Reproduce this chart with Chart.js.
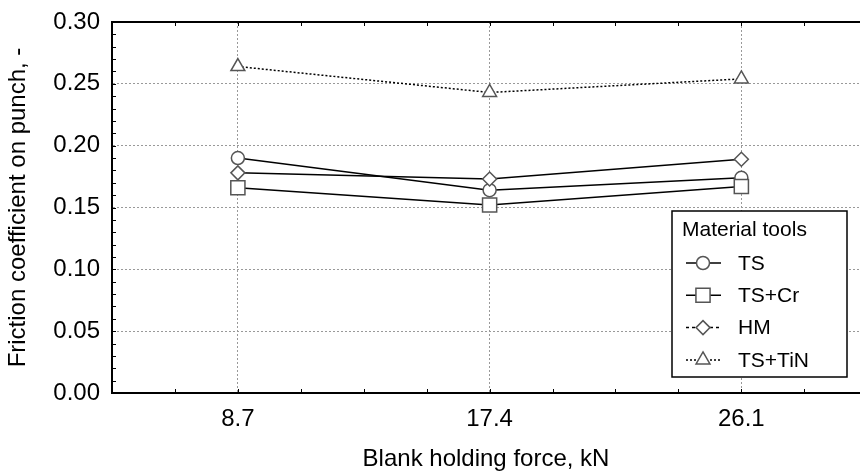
<!DOCTYPE html>
<html>
<head>
<meta charset="utf-8">
<script src="https://cdn.jsdelivr.net/npm/chart.js@4.4.8/dist/chart.umd.min.js"></script>
<style>
  html, body { margin: 0; padding: 0; background: #fff; }
  #wrap { position: relative; width: 860px; height: 474px; }
</style>
</head>
<body>
<div id="wrap"><canvas id="myChart"></canvas></div>
<script>
  // values
  const forces = [8.7, 17.4, 26.1];
  const seriesNames = ['TS', 'TS+Cr', 'HM', 'TS+TiN'];
  const valTS = [0.190, 0.164, 0.174];
  const valTSCr = [0.166, 0.152, 0.167];
  const valHM = [0.178, 0.173, 0.189];
  const valTSTiN = [0.264, 0.243, 0.254];
  const yTicks = [0, 0.05, 0.10, 0.15, 0.20, 0.25, 0.30];
  const legendTitle = 'Material tools';
  const xTitle = 'Blank holding force, kN';
  const yTitle = 'Friction coefficient on punch, -';

  Chart.defaults.font.family = "'Liberation Sans', Arial, sans-serif";
  Chart.defaults.color = '#000';

  const xMin = 4.35, xMax = 30.2;
  const minorX = 2.175, minorY = 0.01;

  function ds(i, values, style, dash, legendDash, radius, order) {
    return {
      label: seriesNames[i],
      data: values.map((v, k) => ({ x: forces[k], y: v })),
      borderColor: '#000',
      borderWidth: 1.5,
      borderDash: dash,
      legendDash: legendDash,
      pointStyle: style,
      pointRadius: radius,
      pointHoverRadius: radius,
      pointBorderColor: '#555',
      pointBackgroundColor: '#fff',
      pointBorderWidth: 1.5,
      order: order,
      tension: 0
    };
  }

  const datasets = [
    ds(0, valTS, 'circle', [], [], 6.5, 2),
    ds(1, valTSCr, 'rect', [], [], 10, 0),
    ds(2, valHM, 'rectRot', [], [3, 3], 7, 1),
    ds(3, valTSTiN, 'triangle', [2, 2], [2, 2], 8, 3)
  ];

  // top frame line + inner minor ticks
  const frame = {
    id: 'frame',
    beforeDatasetsDraw(chart) {
      const c = chart.ctx, a = chart.chartArea;
      const xs = chart.scales.x, ys = chart.scales.y;
      c.save();
      c.strokeStyle = '#000';
      c.lineWidth = 1;
      for (let v = 0; v <= 0.3 + 1e-9; v += minorY) {
        const py = Math.round(ys.getPixelForValue(v)) + 0.5;
        c.beginPath(); c.moveTo(a.left, py); c.lineTo(a.left + 4, py); c.stroke();
      }
      for (let v = forces[0] - minorX; v < xMax; v += minorX) {
        const px = Math.round(xs.getPixelForValue(v)) + 0.5;
        c.beginPath(); c.moveTo(px, a.bottom); c.lineTo(px, a.bottom - 4); c.stroke();
        c.beginPath(); c.moveTo(px, a.top); c.lineTo(px, a.top + 4); c.stroke();
      }
      c.lineWidth = 2;
      c.beginPath(); c.moveTo(a.left - 1, a.top); c.lineTo(a.right, a.top); c.stroke();
      c.restore();
    }
  };

  // boxed legend with sample line + marker
  const legendBox = {
    id: 'legendBox',
    afterDraw(chart) {
      const c = chart.ctx, a = chart.chartArea;
      const w = 175, h = 166;
      const x0 = a.right - 13 - w, y0 = a.bottom - 16 - h;
      c.save();
      c.fillStyle = '#fff';
      c.fillRect(x0, y0, w, h);
      c.strokeStyle = '#000';
      c.lineWidth = 1.5;
      c.strokeRect(x0, y0, w, h);
      c.fillStyle = '#000';
      c.font = "21px 'Liberation Sans', Arial, sans-serif";
      c.textBaseline = 'middle';
      c.fillText(legendTitle, x0 + 10, y0 + 19);
      datasets.forEach((d, i) => {
        const cy = y0 + 52 + i * 32.3;
        c.strokeStyle = '#000';
        c.lineWidth = 1.5;
        c.setLineDash(d.legendDash);
        c.beginPath(); c.moveTo(x0 + 14, cy); c.lineTo(x0 + 49, cy); c.stroke();
        c.setLineDash([]);
        c.fillStyle = '#fff';
        c.strokeStyle = '#555';
        c.lineWidth = 1.5;
        Chart.helpers.drawPoint(c, { pointStyle: d.pointStyle, radius: d.pointRadius, borderWidth: 1.5, rotation: 0 }, x0 + 31, cy);
        c.fillStyle = '#000';
        c.fillText(d.label, x0 + 66, cy + 1);
      });
      c.restore();
    }
  };

  function noPad(s) {
    s.paddingTop = 0; s.paddingBottom = 0; s.paddingLeft = 0; s.paddingRight = 0;
  }

  const chart = new Chart(document.getElementById('myChart'), {
    type: 'line',
    data: { datasets: datasets },
    options: {
      responsive: true,
      maintainAspectRatio: false,
      animation: false,
      layout: { autoPadding: false, padding: { top: 22, left: 0, right: 0, bottom: 0 } },
      plugins: { legend: { display: false }, tooltip: { enabled: false } },
      scales: {
        x: {
          type: 'linear',
          min: xMin,
          max: xMax,
          afterBuildTicks: s => { s.ticks = forces.map(v => ({ value: v })); },
          afterFit: s => { s.height = 81; noPad(s); },
          ticks: { padding: 12, font: { size: 24 }, callback: v => v.toFixed(1) },
          grid: { color: '#999', lineWidth: 1, drawTicks: false },
          border: { color: '#000', width: 2, dash: [2, 2] },
          title: { display: true, text: xTitle, font: { size: 24 }, padding: { top: 0, bottom: 0 } }
        },
        y: {
          min: 0,
          max: 0.3,
          afterBuildTicks: s => { s.ticks = yTicks.map(v => ({ value: v })); },
          afterFit: s => { s.width = 112; noPad(s); },
          ticks: { padding: 12, font: { size: 24 }, callback: v => v.toFixed(2) },
          grid: { color: '#999', lineWidth: 1, drawTicks: false },
          border: { color: '#000', width: 2, dash: [2, 2] },
          title: { display: true, text: yTitle, font: { size: 24 }, padding: { top: 4, bottom: 0 } }
        }
      }
    },
    plugins: [frame, legendBox]
  });
</script>
</body>
</html>
